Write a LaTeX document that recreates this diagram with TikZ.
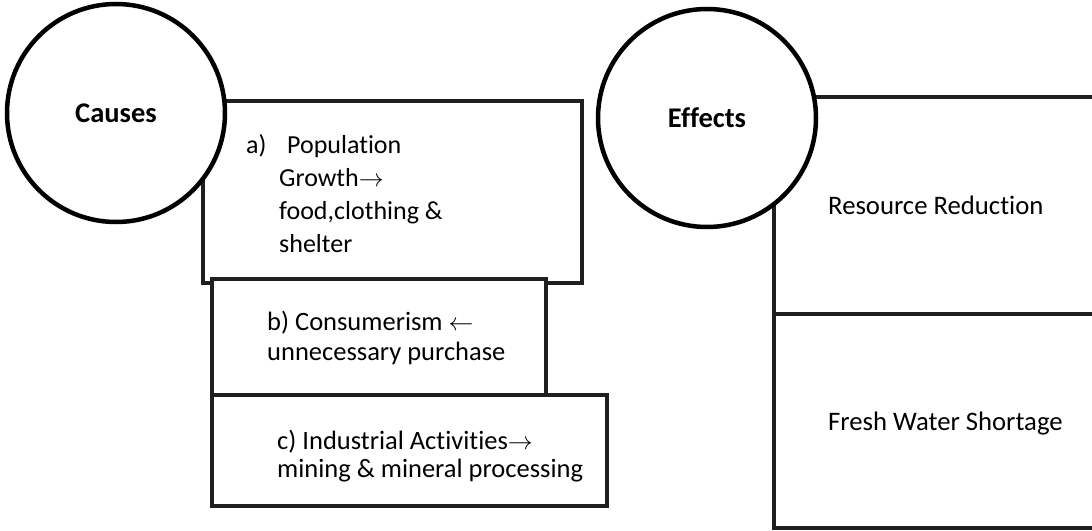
\documentclass[tikz,border=0pt]{standalone}
\usepackage{fontspec}
\setmainfont{Carlito}[Ligatures={NoCommon,NoContextual}]
\begin{document}
\begin{tikzpicture}[x=1pt,y=-1pt,
  boxline/.style={rectangle, draw=black!88, line width=4pt, fill=white, inner sep=0pt},
  ring/.style={circle, draw=black, line width=4.5pt, fill=white, minimum size=218pt, inner sep=0pt, font=\bfseries\fontsize{28.5}{32}\selectfont},
  txt/.style={anchor=west, align=left, inner sep=0pt}]
\useasboundingbox (0,0) rectangle (1092,530);
% causes side
\node[boxline, minimum width=379pt, minimum height=182pt] (boxA) at (392.5,192) {};
\node[ring] (causes) at (116,113) {Causes};
\node[boxline, minimum width=334pt, minimum height=116pt] (boxB) at (379,337) {};
\node[boxline, minimum width=395pt, minimum height=111pt] (boxC) at (409.5,450.5) {};
\node[txt, font=\fontsize{26}{33}\selectfont] (ta) at (246,194)
  {\makebox[41pt][l]{a)}Population\\ \hspace*{33pt}Growth$\rightarrow$\\ \hspace*{33pt}food,clothing \&\\ \hspace*{33pt}shelter};
\node[txt, font=\fontsize{26.5}{30}\selectfont] (tb) at (267,338)
  {b) Consumerism $\leftarrow$\\ unnecessary purchase};
\node[txt, font=\fontsize{26.5}{28.5}\selectfont] (tc) at (277,456)
  {c) Industrial Activities$\rightarrow$\\ mining \& mineral processing};
% effects side
\node[boxline, minimum width=336pt, minimum height=217pt] (effR) at (942,205.5) {};
\node[boxline, minimum width=336pt, minimum height=214pt] (effF) at (942,421) {};
\node[ring] (effects) at (707,118) {Effects};
\node[txt, font=\fontsize{26.7}{30}\selectfont] (tr) at (828,205) {Resource Reduction};
\node[txt, font=\fontsize{26.7}{30}\selectfont] (tf) at (828,424) {Fresh Water Shortage};
\end{tikzpicture}
\end{document}
